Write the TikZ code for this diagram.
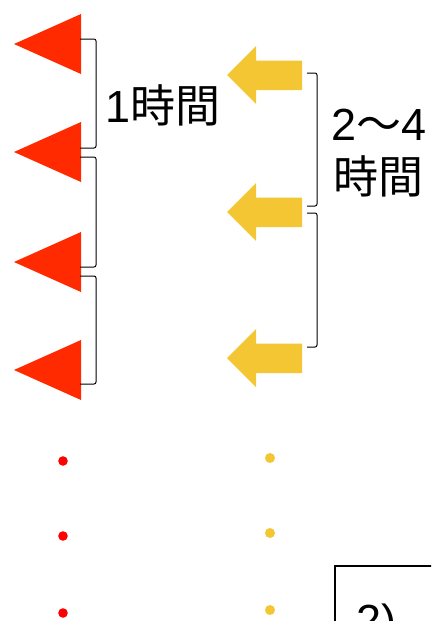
\documentclass[tikz,border=0pt]{standalone}
\usepackage{fontspec}
\setmainfont{Liberation Sans}
\newfontfamily\cjk{Noto Sans CJK JP}
\definecolor{tri}{RGB}{255,42,0}
\definecolor{arr}{RGB}{245,198,51}
\definecolor{rdot}{RGB}{255,0,0}
\begin{document}
\begin{tikzpicture}[x=1pt,y=-1pt,
  redtri/.style={fill=tri,draw=none},
  yelarrow/.style={fill=arr,draw=none},
  brk/.style={draw=black,line width=1pt,rounded corners=2pt},
  lbl/.style={inner sep=0pt,font=\fontsize{45}{55}\selectfont},
  rd/.style={fill=rdot,draw=none},
  yd/.style={fill=arr,draw=none}]
\useasboundingbox (0,0) rectangle (431,621);
\clip (0,0) rectangle (431,621);
% red triangles
\foreach \ty in {44,152,262,370}{
  \fill[redtri] (14,\ty) -- (81,\ty-30) -- (81,\ty+30) -- cycle;
}
% left brackets
\draw[brk] (80,39) -- (96,39) -- (96,148) -- (80,148);
\draw[brk] (80,157) -- (96,157) -- (96,267) -- (80,267);
\draw[brk] (80,276) -- (96,276) -- (96,384) -- (80,384);
\node[lbl,anchor=base west] (t1) at (105,122) {1{\cjk 時間}};
% yellow arrows
\foreach \ay in {75,212,358}{
  \fill[yelarrow] (227,\ay) -- (256,\ay-29) -- (256,\ay-14.5) -- (302,\ay-14.5)
     -- (302,\ay+15) -- (256,\ay+15) -- (256,\ay+29) -- cycle;
}
% right brackets
\draw[brk] (307,73) -- (317,73) -- (317,206) -- (307,206);
\draw[brk] (307,213) -- (317,213) -- (317,347) -- (307,347);
\node[lbl,anchor=base west] (t2) at (331,140) {2{\cjk ～}4};
\node[lbl,anchor=base west] (t3) at (333,193) {\cjk 時間};
% dots
\foreach \dy in {461,536,613} \fill[rd] (63,\dy) circle (4.8);
\foreach \dy in {458,533,610} \fill[yd] (270,\dy) circle (5);
% box
\draw[line width=1.5pt] (335,640) -- (335,566) -- (440,566);
\node[lbl,anchor=base west] (t4) at (356,636) {2)};
\end{tikzpicture}
\end{document}
